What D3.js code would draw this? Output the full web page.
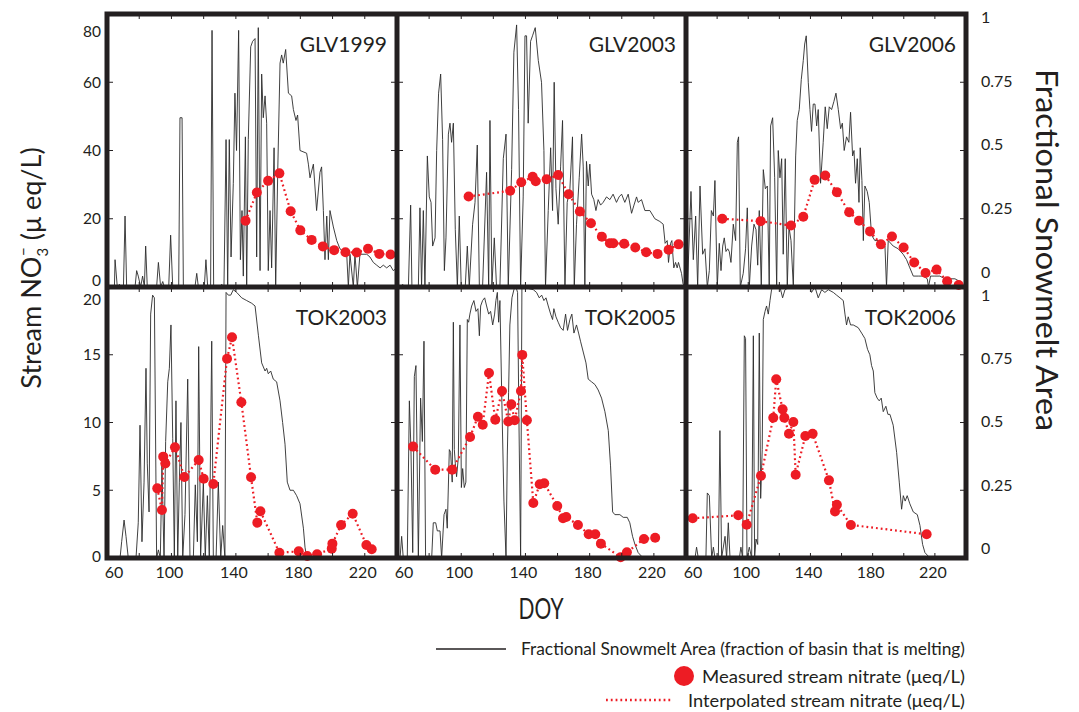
<!DOCTYPE html>
<html>
<head>
<meta charset="utf-8">
<script src="https://cdn.jsdelivr.net/npm/d3@7"></script>
<style>
  html, body { margin: 0; padding: 0; background: #fff; }
  svg { display: block; }
</style>
</head>
<body>
<svg id="chart" width="1079" height="712"></svg>
<script>
// ---------- Data: [day of year, fraction of basin melting] ----------
const glv1999Snow = [[60,0],[64.6,0],[65,0.1],[66.4,0],[67.7,0.01],[68.8,0],[70.2,0],[71.2,0.26],[72.2,0],[77.4,0],[78.4,0.06],[79.4,0.04],[80.9,0],[82.1,0.04],[83.2,0],[84,0.15],[85,0],[90.8,0],[91.9,0.09],[93.3,0],[94.6,0.02],[95.6,0],[98.3,0],[99.5,0.19],[100.8,0],[104.5,0],[105.3,0.62],[106.6,0.62],[107.4,0],[114.6,0],[115.7,0.05],[116.7,0],[120.4,0],[121.4,0.1],[122.5,0],[124.3,0],[125.2,0.94],[126.2,0],[130.1,0],[131.2,0.01],[132.6,0],[133.9,0.54],[134.9,0],[135.9,0.54],[137,0.11],[138.4,0.38],[139.4,0.71],[140.4,0.5],[141.7,0.94],[142.8,0.1],[143.8,0.28],[144.6,0.04],[145.9,0.55],[146.7,0],[147.7,0.54],[149.2,0.88],[150.4,0.9],[151.9,0.91],[152.9,0.11],[153.9,0.95],[155,0.06],[156,0.78],[157,0.62],[158.1,0.7],[159.1,0.6],[160.1,0.06],[161.2,0.28],[162.2,0.07],[163.7,0.51],[164.7,0],[166,0.43],[167.4,0.82],[168.4,0.85],[169.4,0.82],[170.9,0.87],[172.6,0.71],[174.6,0.7],[175.7,0.65],[177.3,0.61],[178.3,0.63],[179.8,0.5],[183.9,0.49],[185,0.45],[186,0.4],[188.1,0.45],[190.1,0.28],[192.2,0.42],[193.2,0.44],[194.3,0.28],[195.3,0.1],[196.4,0.26],[197.4,0.1],[198.4,0.28],[200.5,0.22],[202.6,0.17],[204.6,0.14],[208.8,0.12],[209.8,0],[210.8,0.12],[212.9,0],[213.9,0.12],[215.4,0],[217,0.12],[221.2,0.12],[223.2,0.11],[225.3,0.09],[227.4,0.08],[229.5,0.07],[231.5,0.08],[233.6,0.07],[235.7,0.08],[237.7,0.06],[240,0.07]];

const glv2003Snow = [[60,0],[61.9,0],[63.5,0.01],[65,0],[67.1,0],[68.5,0.3],[69.3,0],[73.3,0],[74.3,0.29],[75.3,0],[76.4,0.28],[77.4,0],[78.9,0.48],[80.1,0.33],[81.2,0.31],[82.2,0.15],[83.7,0.18],[84.7,0.5],[85.9,0.71],[87.2,0.78],[88.4,0.54],[89.5,0.06],[90.5,0.18],[92,0.56],[93,0.6],[94,0.53],[95.1,0.6],[96.3,0.21],[97.6,0],[98.8,0.26],[100,0],[102.5,0],[103.8,0.15],[105,0],[107.1,0.23],[108.6,0.31],[110,0.52],[111.3,0],[113.3,0],[115.8,0.42],[117.1,0],[117.9,0.61],[119.1,0],[120.6,0.18],[122,0],[124.1,0],[126.2,0.47],[127.9,0.56],[129.3,0],[131.4,0.43],[132.8,0.86],[134.5,0.96],[135.7,0.65],[137,0],[138.6,0.33],[139.7,0.92],[140.7,0.92],[141.7,0.6],[143.2,0.9],[144.4,0.92],[146.1,0.95],[148,0.83],[150,0.75],[151.5,0.5],[152.5,0],[154.2,0.28],[155.7,0.51],[156.9,0.28],[157.9,0.75],[159,0.36],[160.4,0.23],[161.9,0.44],[163.1,0.61],[164.6,0],[166,0.31],[167.7,0.36],[169.3,0.55],[170.4,0],[171.8,0.23],[173.5,0.4],[175,0.56],[176,0.44],[177,0],[178,0.46],[179.1,0.37],[180.1,0.45],[181.2,0.34],[182.6,0.32],[183.9,0.28],[185.3,0.32],[186.8,0.3],[188.4,0.31],[190.5,0.33],[192.6,0.32],[194.6,0.34],[196.7,0.31],[198.3,0.33],[199.9,0.34],[201.9,0.31],[204,0.34],[206.1,0.27],[207.6,0.3],[209.2,0.33],[210.2,0.31],[212.3,0.32],[214.4,0.28],[217.5,0.28],[220.6,0.25],[223.7,0.24],[225.8,0.23],[227,0.16],[228.3,0.17],[229.1,0.09],[230.4,0.16],[231.2,0.17],[232.4,0.07],[233.5,0.09],[234.5,0.07],[235.3,0.09],[237.2,0.05],[238.2,0.01],[240,0]];

const glv2006Snow = [[60,0],[60.9,0],[63.2,0.35],[64.7,0.1],[66.2,0.26],[67.5,0],[69,0.37],[70.7,0.12],[72.2,0.14],[73.7,0],[75,0.06],[76.3,0.28],[77.6,0.26],[78.6,0.39],[80.1,0],[81.4,0.16],[82.5,0.06],[83.6,0.15],[84.6,0.18],[85.7,0.13],[86.8,0.14],[87.8,0.13],[88.9,0.09],[90.4,0.23],[91.9,0.17],[93,0.53],[93.8,0.55],[94.9,0],[96.8,0.05],[98.3,0.14],[99.4,0.29],[100.7,0],[102.2,0.15],[103.7,0.23],[105,0.21],[106.1,0.08],[107.1,0.28],[108.4,0],[109.7,0.43],[111,0.36],[112.3,0.37],[113.5,0],[114.4,0.59],[115.7,0.62],[117,0.4],[118.3,0],[119.3,0.5],[120.4,0.4],[121.5,0.47],[122.5,0.12],[123.8,0.47],[125.1,0],[126.2,0.22],[127.5,0.17],[129,0],[130.5,0.48],[131.5,0.61],[132.8,0.65],[134.1,0.76],[135.4,0.83],[136.3,0.89],[137.3,0.92],[138.6,0.75],[139.7,0.65],[140.7,0.57],[141.8,0.67],[142.9,0.67],[144,0.59],[145,0.65],[146.5,0.38],[148.2,0.53],[149.5,0.66],[150.8,0.58],[152.1,0.66],[153.6,0.65],[155.1,0.68],[156.4,0.71],[157.9,0.65],[159.4,0.58],[160.5,0.6],[161.7,0.5],[163.2,0.55],[164.7,0.53],[165.8,0.64],[167.1,0.48],[168,0.5],[169,0.38],[170.1,0.47],[171.2,0.31],[172,0.51],[173.1,0.39],[174,0.17],[175,0.37],[176.5,0.35],[177.8,0.31],[179.3,0.19],[181.4,0.17],[183.6,0.17],[185.7,0.16],[187.9,0.15],[188.9,0],[190,0.17],[193.2,0.15],[196.4,0.14],[199.6,0.12],[201.8,0.1],[203.9,0.07],[206.1,0.04],[209.3,0.04],[212.5,0.04],[215.1,0.03],[215.9,0],[217.2,0.04],[220,0.04],[223.2,0.04],[226.4,0.03],[229.6,0.03],[232.9,0.03],[236.1,0.02],[239.3,0]];

const tok2003Snow = [[60,0],[68.1,0],[69.1,0.06],[70.6,0.14],[71.8,0.08],[73.2,0],[78,0],[79.4,0.13],[80.5,0.49],[81.7,0.06],[83,0.28],[84.2,0.7],[85,0.35],[86.1,0.17],[87.1,0.9],[88.3,0.97],[89.4,0.96],[90.8,0],[91.9,0.03],[93.1,0],[94.1,0.34],[95.4,0],[96.4,0.43],[97.7,0.65],[98.7,0.7],[99.7,0.86],[100.8,0.44],[101.8,0],[102.8,0.58],[103.9,0],[104.9,0.28],[105.9,0.5],[107,0],[108.4,0.16],[110.1,0.66],[111.5,0],[113.6,0],[114.8,0.27],[116.1,0.06],[116.9,0.78],[118.1,0],[119.8,0.28],[121,0],[122.3,0.23],[123.5,0],[125,0.8],[126,0],[127.7,0],[129.1,0.28],[130.6,0],[131.8,0.12],[133.2,0],[133.9,0.98],[135.3,0.97],[136.8,0.97],[138.4,0.99],[140.5,0.98],[143.6,0.96],[146.7,0.95],[149.8,0.94],[151.9,0.93],[154,0.82],[156,0.72],[158.1,0.69],[159.1,0.7],[160.1,0.68],[161.6,0.69],[163.2,0.66],[165.3,0.65],[167.4,0.58],[169,0.5],[170.5,0.42],[171.9,0.28],[173.6,0.25],[175.7,0.25],[177.7,0.23],[179.8,0.2],[181.9,0.11],[182.9,0.04],[184,0],[240,0]];

const tok2005Snow = [[60,0],[61.9,0],[62.9,0.08],[63.9,0],[66.4,0],[67.7,0.58],[68.7,0.4],[69.8,0.02],[70.8,0.67],[71.8,0.71],[73.3,0],[74.7,0.59],[75.8,0.43],[76.8,0.8],[77.8,0],[81.6,0],[82.6,0.13],[84.1,0.13],[85.1,0.1],[86.8,0.1],[87.8,0],[89.3,0.16],[90.5,0.18],[91.3,0.11],[92.6,0.4],[93.4,0.39],[94.4,0.28],[95.1,0.87],[95.7,0.4],[96.3,0.35],[97.1,0.3],[98.2,0.37],[99.2,0.86],[100.1,0.26],[100.9,0.33],[101.9,0.26],[102.9,0.28],[103.8,0.88],[104.6,0.87],[105.4,0.9],[106.5,0.93],[107.9,0.95],[109.2,0.91],[110.4,0.92],[111.3,0.82],[112.1,0.93],[113.3,0.95],[114.6,0.96],[115.8,0.93],[117.1,0.9],[118.3,0.91],[119.6,0.86],[120.8,0.9],[121.6,0.95],[122.5,0.98],[123.3,0.87],[124.1,0.95],[125.4,0.55],[126.6,0.21],[127.9,0],[128.7,0.38],[129.5,0.61],[130.3,0.86],[131.6,0.96],[132.8,0.99],[134.1,1],[135.1,0.98],[135.9,0.53],[137,0],[137.8,1],[144.9,0.99],[146.9,0.98],[148.6,0.96],[150.1,0.97],[151.5,0.95],[152.8,0.96],[154.2,0.93],[155.7,0.9],[156.9,0.88],[157.7,0.92],[159,0.89],[160.4,0.87],[161.9,0.85],[163.5,0.84],[165,0.9],[166.2,0.84],[167.7,0.88],[168.9,0.9],[170.2,0.83],[171.8,0.86],[173.1,0.83],[174.3,0.8],[176,0.76],[177.7,0.72],[179.1,0.66],[181.2,0.65],[183.3,0.64],[185.3,0.62],[187.4,0.59],[189.5,0.54],[191.6,0.47],[193,0.34],[194.3,0.17],[195.7,0.16],[198.8,0.16],[200.9,0.15],[203.4,0.15],[205,0.13],[206.7,0.08],[208.2,0.05],[210.2,0.02],[213.3,0],[240,0]];

const tok2006Snow = [[60,0],[65.8,0],[66.8,0.04],[67.9,0],[72.8,0],[73.7,0.24],[75,0.23],[76.5,0],[77.6,0.04],[78.6,0],[80.8,0],[81.8,0.47],[82.9,0],[85.1,0.08],[86.1,0],[87.2,0.13],[88.3,0],[94.3,0],[95.3,0.04],[96.4,0],[97.5,0.82],[98.3,0.81],[99.2,0],[100.7,0.04],[102.2,0],[103.3,0.82],[104.1,0],[105,0.07],[106.1,0.05],[107.1,0.83],[108,0.22],[109,0.4],[109.7,0.88],[110.8,0.91],[111.8,0.93],[112.9,0.9],[114,0.95],[115,0.99],[116.1,1],[120.4,1],[122.1,0.96],[123.6,0.99],[126.8,1],[139.7,1],[140.7,0.98],[142.9,1],[145,0.96],[147.2,0.99],[149.3,0.98],[151.5,0.99],[154.7,0.98],[156.8,0.97],[159,0.96],[161.1,0.95],[162.2,0.9],[163.2,0.86],[164.3,0.89],[165.8,0.86],[167.5,0.86],[170.7,0.85],[172.9,0.83],[175,0.81],[176.7,0.77],[178.2,0.75],[179.3,0.71],[180.4,0.69],[181.4,0.61],[182.9,0.59],[184.2,0.58],[185.5,0.59],[186.8,0.54],[188.5,0.56],[189.8,0.53],[191.1,0.53],[193.2,0.49],[195.4,0.39],[197.1,0.28],[198.6,0.18],[199.7,0.23],[200.9,0.21],[202.2,0.23],[203.9,0.2],[206.1,0.17],[208.7,0.16],[210.4,0.12],[212.1,0.05],[213.6,0.02],[216.8,0],[240,0]];

// ---------- Data: [day of year, measured stream NO3- in ueq/L] ----------
const glv1999Nitrate = [[146,19.4],[153,27.7],[160,31.1],[167,33.3],[174,22.2],[180,16.6],[187,13.8],[194,11.9],[201,10.8],[208,10.2],[215,10.1],[222,11.2],[229,9.7],[236,9.5]];
const glv2003Nitrate = [[104.6,26.5],[130.5,28.2],[137.4,30.7],[144.5,32.3],[146.4,31.0],[153.2,31.6],[160.4,32.8],[166.9,27.2],[173.9,22.1],[180.8,18.7],[187.6,14.7],[192.6,12.8],[194.7,12.8],[201.5,12.7],[208.4,11.6],[215.2,10.2],[222.3,9.7],[229.2,10.9],[235.4,12.5]];
const glv2006Nitrate = [[83.3,20.0],[108,19.3],[127.5,18.0],[135.4,20.6],[142.7,31.4],[149.5,32.7],[157,27.8],[164.9,21.9],[171.2,19.4],[178.3,16.3],[185.3,12.5],[192.4,14.8],[199.9,11.6],[206.7,7.2],[214,4.1],[221.1,5.1],[227.9,1.7],[235.3,0.6]];
const tok2003Nitrate = [[91.2,5.14],[94.1,3.54],[94.9,7.48],[96.2,6.97],[102.2,8.18],[108,5.98],[116.9,7.23],[120,5.85],[126,5.46],[134.5,14.71],[137.6,16.29],[143.4,11.49],[149.4,5.96],[153.3,2.61],[155.2,3.45],[167,0.39],[179,0.49],[184.3,0.15],[190.4,0.27],[199.5,0.69],[199.9,1.06],[205.3,2.44],[212.5,3.27],[221,0.96],[224.3,0.64]];
const tok2005Nitrate = [[70,8.22],[83.8,6.52],[94.4,6.52],[105.5,8.93],[110.4,10.43],[113.4,9.84],[117.3,13.65],[121.2,10.21],[125.4,12.33],[129.3,10.08],[131.2,11.34],[133.3,10.16],[137.2,12.33],[138,14.99],[140.9,10.16],[144.9,4.06],[148.9,5.44],[151.7,5.52],[159.8,3.84],[163.4,2.94],[165.4,3.03],[172.7,2.44],[179.4,1.75],[183.5,1.75],[187,1.06],[199.3,0.05],[203.2,0.42],[213.8,1.4],[220.8,1.5]];
const tok2006Nitrate = [[64.3,2.93],[93.6,3.15],[99,2.46],[108.2,6.07],[116.1,10.35],[118,13.19],[122.1,10.97],[123.2,10.35],[126.2,9.17],[129,10.04],[130.5,6.15],[136.7,9.0],[141.4,9.17],[151.9,5.73],[155.8,3.44],[157,3.93],[166,2.44],[214.7,1.75]];

// ---------- Axis ticks and labels ----------
const panelNames = ['GLV1999', 'GLV2003', 'GLV2006', 'TOK2003', 'TOK2005', 'TOK2006'];
const doyDomain = [60, 240];
const doyLabelTicks = [60, 100, 140, 180, 220];
const doyMinorTicks = [80, 100, 120, 140, 160, 180, 200, 220];
const nitrateTicksGLV = [0, 20, 40, 60, 80];
const nitrateTicksTOK = [0, 5, 10, 15, 20];
const fractionTicks = [0, 0.25, 0.5, 0.75, 1];
const fractionLabels = ['0', '0.25', '0.5', '0.75', '1'];

const snowSeries = [glv1999Snow, glv2003Snow, glv2006Snow, tok2003Snow, tok2005Snow, tok2006Snow];
const nitrateSeries = [glv1999Nitrate, glv2003Nitrate, glv2006Nitrate, tok2003Nitrate, tok2005Nitrate, tok2006Nitrate];

// ---------- Layout ----------
const FONT = 'Lato, "Open Sans", "DejaVu Sans", sans-serif';
const INK = '#231f20';
const RED = '#ed1c24';
const colBounds = [[107, 397], [397, 686], [686, 966]];
const rowBounds = [[14, 287], [287, 558]];
const rowNitrateTicks = [nitrateTicksGLV, nitrateTicksTOK];
// vertical spread used for the right-hand fraction labels
const fracLabelRange = [[272, 17], [548, 295]];
// keep the extreme left-hand labels inside each panel row
const leftLabelInset = [[17, 7], [12, 2]];

const svg = d3.select('#chart');

const panels = panelNames.map((name, i) => ({
  name,
  col: i % 3,
  row: Math.floor(i / 3),
  snow: snowSeries[i],
  nitrate: nitrateSeries[i]
}));

const gPlots = svg.append('g');
const gFrame = svg.append('g');
const gText = svg.append('g').attr('font-family', FONT).attr('fill', INK);

panels.forEach(p => {
  const [x0, x1] = colBounds[p.col];
  const [y0, y1] = rowBounds[p.row];
  const ticks = rowNitrateTicks[p.row];
  const x = d3.scaleLinear().domain(doyDomain).range([x0, x1]);
  const yN = d3.scaleLinear().domain([0, d3.max(ticks)]).range([y1, y0]);
  const yF = d3.scaleLinear().domain([0, 1]).range([y1, y0]);

  const g = gPlots.append('g');

  // snowmelt fraction line
  g.append('path')
    .datum(p.snow)
    .attr('fill', 'none')
    .attr('stroke', '#2b2b2b')
    .attr('stroke-width', 0.9)
    .attr('stroke-linejoin', 'round')
    .attr('d', d3.line().x(d => x(d[0])).y(d => yF(d[1])));

  // interpolated nitrate (dotted) and measured nitrate (dots)
  const sorted = p.nitrate.slice().sort((a, b) => a[0] - b[0]);
  g.append('path')
    .datum(sorted)
    .attr('fill', 'none')
    .attr('stroke', RED)
    .attr('stroke-width', 2.2)
    .attr('stroke-dasharray', '1.8,3')
    .attr('d', d3.line().x(d => x(d[0])).y(d => yN(d[1])));

  g.selectAll('circle')
    .data(sorted)
    .join('circle')
    .attr('cx', d => x(d[0]))
    .attr('cy', d => yN(d[1]))
    .attr('r', 5)
    .attr('fill', RED);

  // inward tick marks on all four sides
  const tk = gFrame.append('g').attr('stroke', INK).attr('stroke-width', 1);
  ticks.slice(1, -1).forEach(v => {
    tk.append('line').attr('x1', x0).attr('x2', x0 + 6).attr('y1', yN(v)).attr('y2', yN(v));
    tk.append('line').attr('x1', x1).attr('x2', x1 - 6).attr('y1', yN(v)).attr('y2', yN(v));
  });
  doyMinorTicks.forEach(d => {
    tk.append('line').attr('x1', x(d)).attr('x2', x(d)).attr('y1', y0).attr('y2', y0 + 5);
    tk.append('line').attr('x1', x(d)).attr('x2', x(d)).attr('y1', y1).attr('y2', y1 - 5);
  });

  // panel title
  gText.append('text')
    .attr('x', x1 - 10)
    .attr('y', y0 + 38)
    .attr('text-anchor', 'end')
    .attr('font-size', 21)
    .text(p.name);

  // left nitrate labels
  if (p.col === 0) {
    const [insTop, insBot] = leftLabelInset[p.row];
    ticks.forEach(v => {
      const yy = Math.min(Math.max(yN(v), y0 + insTop), y1 - insBot);
      gText.append('text')
        .attr('x', 101)
        .attr('y', yy)
        .attr('dy', '0.36em')
        .attr('text-anchor', 'end')
        .attr('font-size', 15.5)
        .text(v);
    });
  }

  // right fraction labels
  if (p.col === 2) {
    const yl = d3.scaleLinear().domain([0, 1]).range(fracLabelRange[p.row]);
    fractionTicks.forEach((v, k) => {
      gText.append('text')
        .attr('x', 981)
        .attr('y', yl(v))
        .attr('dy', '0.36em')
        .attr('font-size', 16)
        .text(fractionLabels[k]);
    });
  }

  // day-of-year labels under the bottom row
  if (p.row === 1) {
    doyLabelTicks.forEach((d, k) => {
      gText.append('text')
        .attr('x', x(d) + (k === 0 ? 7 : -2))
        .attr('y', 578)
        .attr('text-anchor', 'middle')
        .attr('font-size', 16)
        .text(d);
    });
  }
});

// heavy panel frame
gFrame.append('rect')
  .attr('x', 107).attr('y', 14).attr('width', 859).attr('height', 544)
  .attr('fill', 'none').attr('stroke', INK).attr('stroke-width', 5);
gFrame.append('line').attr('x1', 397).attr('x2', 397).attr('y1', 14).attr('y2', 558)
  .attr('stroke', INK).attr('stroke-width', 5);
gFrame.append('line').attr('x1', 686).attr('x2', 686).attr('y1', 14).attr('y2', 558)
  .attr('stroke', INK).attr('stroke-width', 5);
gFrame.append('line').attr('x1', 107).attr('x2', 966).attr('y1', 287).attr('y2', 287)
  .attr('stroke', INK).attr('stroke-width', 5);

// axis titles
const leftTitle = gText.append('text')
  .attr('transform', 'translate(41,268) rotate(-90)')
  .attr('text-anchor', 'middle')
  .attr('font-size', 27);
leftTitle.append('tspan').text('Stream NO');
leftTitle.append('tspan').attr('font-size', 15).attr('dy', 7).text('3');
leftTitle.append('tspan').attr('font-size', 15).attr('dx', -8).attr('dy', -19).text('\u2212');
leftTitle.append('tspan').attr('dy', 12).text(' (\u03bc eq/L)');

gText.append('text')
  .attr('transform', 'translate(1036,250) rotate(90)')
  .attr('text-anchor', 'middle')
  .attr('font-size', 31)
  .attr('textLength', 362)
  .attr('lengthAdjust', 'spacingAndGlyphs')
  .text('Fractional Snowmelt Area');

gText.append('text')
  .attr('x', 541)
  .attr('y', 619)
  .attr('text-anchor', 'middle')
  .attr('font-size', 29)
  .attr('textLength', 45)
  .attr('lengthAdjust', 'spacingAndGlyphs')
  .text('DOY');

// legend
const lg = svg.append('g').attr('font-family', FONT).attr('fill', INK);
const legendText = (y, width, label) => lg.append('text')
  .attr('x', 965).attr('y', y).attr('dy', '0.35em')
  .attr('text-anchor', 'end').attr('font-size', 17)
  .attr('textLength', width).attr('lengthAdjust', 'spacingAndGlyphs')
  .text(label);

lg.append('line').attr('x1', 436).attr('x2', 506).attr('y1', 649).attr('y2', 649)
  .attr('stroke', INK).attr('stroke-width', 1.6);
legendText(649, 444, 'Fractional Snowmelt Area (fraction of basin that is melting)');
lg.append('circle').attr('cx', 684).attr('cy', 676).attr('r', 10).attr('fill', RED);
legendText(677, 263, 'Measured stream nitrate (\u03bceq/L)');
lg.append('line').attr('x1', 606).attr('x2', 671).attr('y1', 700).attr('y2', 700)
  .attr('stroke', RED).attr('stroke-width', 2.4).attr('stroke-dasharray', '1.8,3');
legendText(701, 277, 'Interpolated stream nitrate (\u03bceq/L)');
</script>
</body>
</html>
